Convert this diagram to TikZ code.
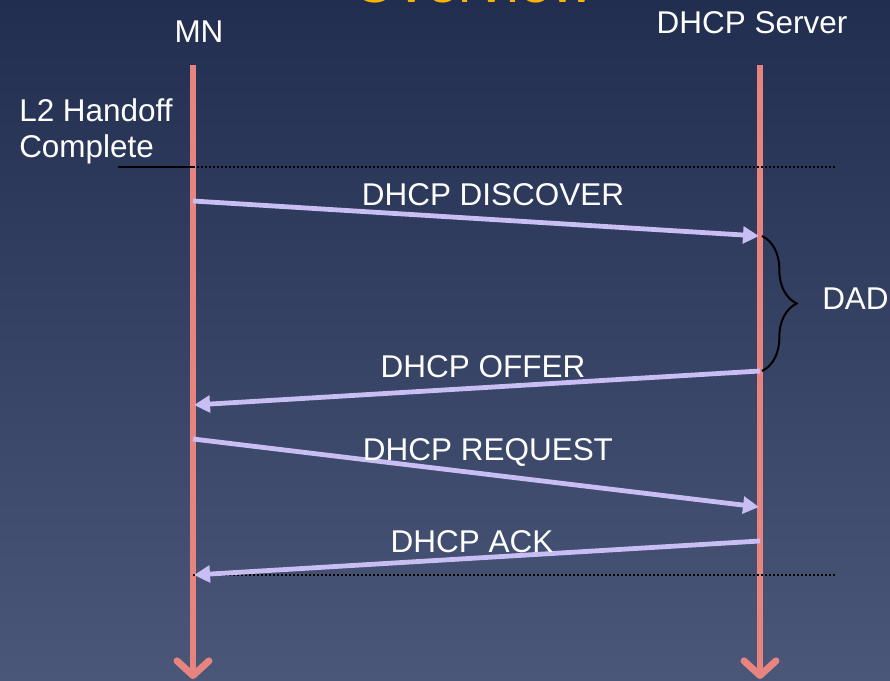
\documentclass[tikz,border=0pt]{standalone}
\usepackage{fontspec}
\setmainfont{Liberation Sans}
\usetikzlibrary{arrows.meta,decorations.pathreplacing}
\definecolor{bgtop}{HTML}{222E50}
\definecolor{bgbot}{HTML}{4B5778}
\definecolor{life}{HTML}{E8847F}
\definecolor{msg}{HTML}{C9BEF4}
\definecolor{ttl}{HTML}{FFB400}
\begin{document}
\begin{tikzpicture}[x=0.75pt,y=-0.75pt,
  lbl/.style={text=white,font=\fontsize{23.6}{28}\selectfont,inner sep=0pt},
  lifeline/.style={draw=life,line width=5.2pt,-{Straight Barb[length=11pt,width=24pt,line cap=round,line join=round]}},
  msgarrow/.style={draw=msg,line width=3.6pt,-{Triangle[length=12pt,width=12.5pt]}},
  dotline/.style={draw=black,line width=1.1pt,dash pattern=on 1.4pt off 1.6pt}]
\useasboundingbox (0,0) rectangle (890,681);
\clip (0,0) rectangle (890,681);
\shade[top color=bgtop,bottom color=bgbot] (0,0) rectangle (890,681);
% title (cut off)
\node[text=ttl,font=\fontsize{43.5}{50}\selectfont,inner sep=0pt,anchor=base] (title) at (473,3) {Overview};
% headers
\node[lbl,anchor=base] (mn) at (199,43) {MN};
\node[lbl,anchor=base] (srv) at (752,34) {DHCP Server};
% lifelines
\coordinate (mnT) at (193,65);
\coordinate (mnB) at (193,679);
\coordinate (srvT) at (760,65);
\coordinate (srvB) at (760,679);
\draw[lifeline] (mnT) -- (mnB);
\draw[lifeline] (srvT) -- (srvB);
% L2 handoff
\node[lbl,anchor=base west] (l2) at (19,122) {L2 Handoff};
\node[lbl,anchor=base west] (cmp) at (19,158) {Complete};
\coordinate (hs) at (118,167);
\coordinate (hm) at (193,167);
\coordinate (he) at (836,167);
\draw[black,line width=1.3pt] (hs) -- (hm);
\draw[dotline] (hm) -- (he);
\coordinate (as) at (193,575);
\coordinate (ae) at (836,575);
\draw[dotline] (as) -- (ae);
% messages
\coordinate (m1s) at (193,201);
\coordinate (m1e) at (759,236);
\coordinate (m2s) at (760,371);
\coordinate (m2e) at (194,405);
\coordinate (m3s) at (193,439);
\coordinate (m3e) at (759,507);
\coordinate (m4s) at (760,541);
\coordinate (m4e) at (194,575);
\draw[msgarrow] (m1s) -- (m1e);
\draw[msgarrow] (m2s) -- (m2e);
\draw[msgarrow] (m3s) -- (m3e);
\draw[msgarrow] (m4s) -- (m4e);
\node[lbl,anchor=base] (t1) at (493,206) {DHCP DISCOVER};
\node[lbl,anchor=base] (t2) at (483,378) {DHCP OFFER};
\node[lbl,anchor=base] (t3) at (488,460) {DHCP REQUEST};
\node[lbl,anchor=base] (t4) at (472,552) {DHCP ACK};
% DAD brace
\coordinate (bs) at (762,236);
\coordinate (be) at (762,371);
\draw[black,line width=1.5pt,decorate,decoration={brace,amplitude=26pt}] (bs) -- (be);
\node[lbl,anchor=base west] (dad) at (822,310) {DAD};
\end{tikzpicture}
\end{document}
